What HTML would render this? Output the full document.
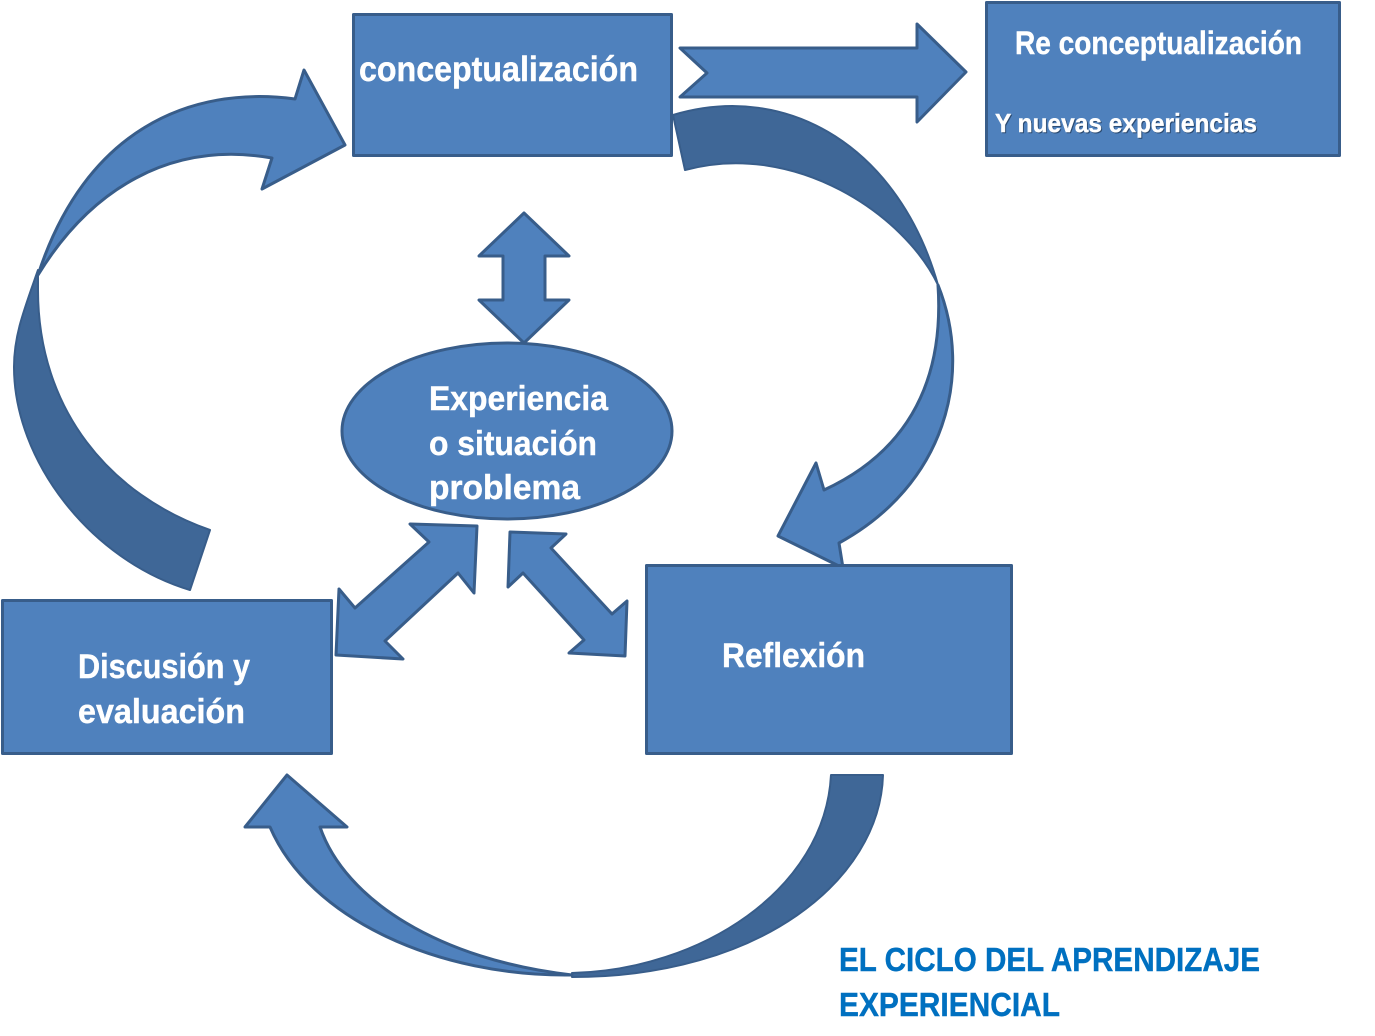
<!DOCTYPE html>
<html>
<head>
<meta charset="utf-8">
<style>
html,body{margin:0;padding:0;background:#fff;width:1375px;height:1036px;overflow:hidden}
svg{display:block}
text{font-family:"Liberation Sans",sans-serif;font-weight:bold;fill:#fff;stroke:#fff;stroke-width:.4}
.s{fill:#4F81BD;stroke:#385D8A;stroke-width:3;stroke-linejoin:round}
.d{fill:#3F6797;stroke:#385D8A;stroke-width:2;stroke-linejoin:round}
</style>
</head>
<body>
<svg width="1375" height="1036" viewBox="0 0 1375 1036" xmlns="http://www.w3.org/2000/svg">
<rect width="1375" height="1036" fill="#fff" style="stroke:none"/>

<!-- left curved arrow -->
<path class="d" d="M38,270 C24,310 14,335 14,367 C14,460 90,560 190,590 L210,530 C110,495 38,410 38,290 Z"/>
<path class="s" d="M295,99 L304,70 L345,145 L262,189 L272,158 C170,140 90,190 38,275 C85,130 190,85 295,99 Z"/>

<!-- right curved arrow -->
<path class="d" d="M673,115 C790,80 900,150 938,285 C905,215 795,140 685,170 Z"/>
<path class="s" d="M938,285 C974,375 945,485 839,543 L843,568 L778,536 L816,463 L824,490 C900,455 945,390 938,285 Z"/>

<!-- bottom curved arrow -->
<path class="d" d="M831,775 L883,775 C880,880 760,977 572,977 L572,973 C700,970 825,890 831,775 Z"/>
<path class="s" d="M287,775 L347,827 L320,827 C345,900 440,960 572,975 C440,977 310,920 270,827 L245,827 Z"/>

<!-- straight notched arrow -->
<path class="s" d="M680,48 L917,48 L917,24 L966,72 L917,122 L917,97 L680,97 L707,73 Z"/>

<!-- rects -->
<rect class="s" x="353.5" y="14.5" width="318" height="141"/>
<rect class="s" x="986.5" y="2.5" width="353" height="153"/>
<rect class="s" x="2.5" y="600.5" width="329" height="153"/>
<rect class="s" x="646.5" y="565.5" width="365" height="188"/>

<!-- double arrows -->
<path class="s" d="M524,213 L569,256 L545,256 L545,300 L569,300 L524,343 L479,300 L503,300 L503,256 L479,256 Z"/>
<ellipse class="s" cx="507" cy="431" rx="165" ry="88"/>
<path class="s" d="M410,524 L477,526 L474,593 L458,573 L385,641 L403,659 L336,655 L339,589 L355,608 L429,542 Z"/>
<path class="s" d="M510,532 L566,534 L551,548 L612,614 L627,601 L625,656 L569,653 L584,640 L523,573 L508,587 Z"/>

<!-- labels -->
<text x="359" y="81" font-size="35" textLength="279" lengthAdjust="spacingAndGlyphs">conceptualización</text>
<text x="1015" y="54" font-size="32" textLength="287" lengthAdjust="spacingAndGlyphs">Re conceptualización</text>
<text x="996" y="133" font-size="26" textLength="262" lengthAdjust="spacingAndGlyphs" style="fill:#2b4a70;stroke:#2b4a70">Y nuevas experiencias</text>
<text x="995" y="132" font-size="26" textLength="262" lengthAdjust="spacingAndGlyphs">Y nuevas experiencias</text>
<text x="429" y="410" font-size="34" textLength="179" lengthAdjust="spacingAndGlyphs">Experiencia</text>
<text x="429" y="455" font-size="34" textLength="168" lengthAdjust="spacingAndGlyphs">o situación</text>
<text x="429" y="499" font-size="34" textLength="151" lengthAdjust="spacingAndGlyphs">problema</text>
<text x="78" y="678" font-size="34" textLength="172" lengthAdjust="spacingAndGlyphs">Discusión y</text>
<text x="78" y="723" font-size="34" textLength="167" lengthAdjust="spacingAndGlyphs">evaluación</text>
<text x="722" y="667" font-size="34" textLength="143" lengthAdjust="spacingAndGlyphs">Reflexión</text>
<text x="839" y="971" font-size="33" textLength="421" lengthAdjust="spacingAndGlyphs" style="fill:#0070C0;stroke:#0070C0">EL CICLO DEL APRENDIZAJE</text>
<text x="839" y="1016" font-size="33" textLength="221" lengthAdjust="spacingAndGlyphs" style="fill:#0070C0;stroke:#0070C0">EXPERIENCIAL</text>
</svg>
</body>
</html>
